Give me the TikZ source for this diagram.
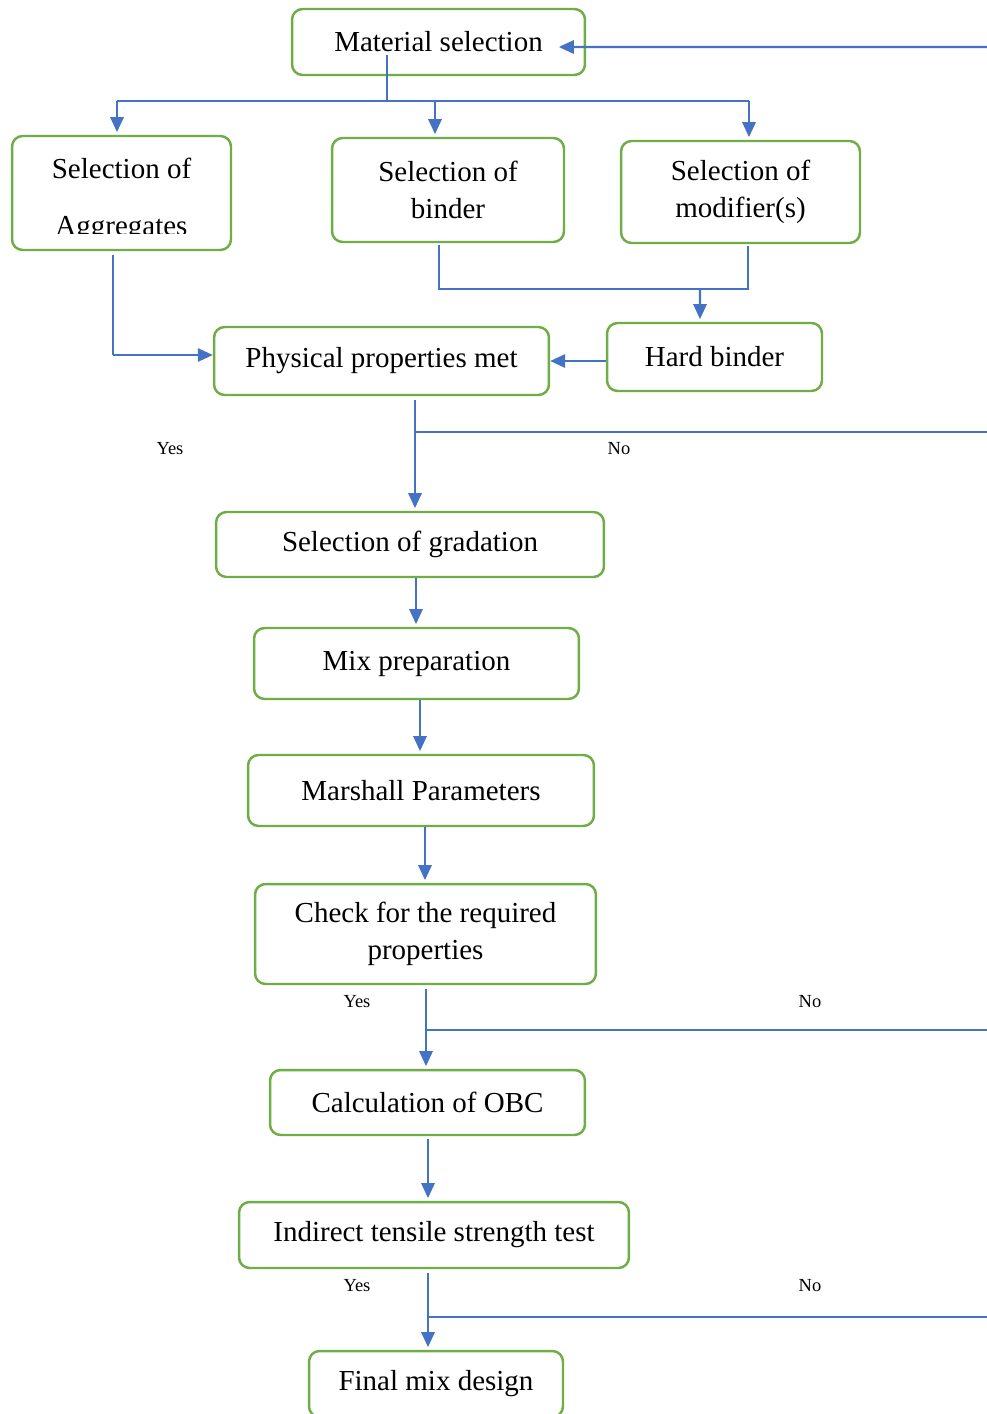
\documentclass[tikz,border=0pt]{standalone}
\usepackage{fontspec}
\setmainfont{Liberation Serif}
\usetikzlibrary{arrows.meta}
\definecolor{boxgreen}{HTML}{70AD47}
\definecolor{linkblue}{HTML}{4472C4}
\begin{document}
\begin{tikzpicture}[x=0.02cm,y=-0.02cm,
    stage/.style={draw=boxgreen,line width=1.4pt,rounded corners=6pt,align=center,
        inner sep=0pt,font=\fontsize{16.5}{21}\selectfont},
    link/.style={draw=linkblue,line width=1.3pt,-{Triangle[length=8.5pt,width=7.5pt]},shorten >=1.5pt},
    thinlink/.style={draw=linkblue,line width=0.7pt},
    answer/.style={font=\fontsize{10.5}{12}\selectfont}]
        \useasboundingbox (0,0) rectangle (987,1414);
        \fill[white] (0,0) rectangle (987,1414);
        \clip (0,0) rectangle (987,1414);
        \coordinate (rim) at (987,0);
        % Materials
        \node[stage,minimum width=5.86cm,minimum height=1.32cm] (msel) at (438.5,42) {Material selection};
        \node[stage,minimum width=4.38cm,minimum height=2.28cm] (agg) at (121.5,193) {};
        \node[anchor=base,font=\fontsize{16.5}{21}\selectfont] (aggtop) at (121.5,178) {Selection of};
        \begin{scope}
            \clip (0,136) rectangle (987,233);
            \node[anchor=base,font=\fontsize{16.5}{21}\selectfont] (aggbot) at (121.5,235) {Aggregates};
        \end{scope}
        \node[stage,minimum width=4.64cm,minimum height=2.08cm] (bind) at (448,190) {Selection of\\binder};
        \node[stage,minimum width=4.78cm,minimum height=2.04cm] (modf) at (740.5,192) {Selection of\\modifier(s)};
        \node[stage,minimum width=4.30cm,minimum height=1.36cm] (hard) at (714.5,357) {Hard binder};
        \node[stage,minimum width=6.70cm,minimum height=1.36cm] (phys) at (381.5,361) {Physical properties met};
        % Mix design
        \node[stage,minimum width=7.76cm,minimum height=1.30cm] (grad) at (410,544.5) {Selection of gradation};
        \node[stage,minimum width=6.50cm,minimum height=1.42cm] (mixp) at (416.5,663.5) {Mix preparation};
        \node[stage,minimum width=6.92cm,minimum height=1.42cm] (mars) at (421,790.5) {Marshall Parameters};
        \node[stage,minimum width=6.82cm,minimum height=2.00cm] (chk) at (425.5,934) {Check for the required\\properties};
        \node[stage,minimum width=6.30cm,minimum height=1.30cm] (obc) at (427.5,1102.5) {Calculation of OBC};
        \node[stage,minimum width=7.80cm,minimum height=1.32cm] (its) at (434,1235) {Indirect tensile strength test};
        \node[stage,minimum width=5.08cm,minimum height=1.32cm] (fin) at (436,1384) {Final mix design};
        % Answers
        \node[answer] (yes1) at (170,449) {Yes};
        \node[answer] (no1) at (619,449) {No};
        \node[answer] (yes2) at (357,1002) {Yes};
        \node[answer] (no2) at (810,1002) {No};
        \node[answer] (yes3) at (357,1286) {Yes};
        \node[answer] (no3) at (810,1286) {No};
        % Top branches
        \coordinate (split) at (387,101);
        \coordinate (back) at (987,47);
        \draw[link] (back) -- ([xshift=-0.6cm,yshift=-0.1cm]msel.east);
        \draw[thinlink] ([yshift=-0.26cm]msel.center -| split) -- (split);
        \draw[thinlink] ([xshift=-0.09cm]agg.north |- split) -- ([xshift=0.17cm]modf.north |- split);
        \draw[link] ([xshift=-0.09cm]agg.north |- split) -- ([xshift=-0.09cm]agg.north);
        \draw[link] ([xshift=-0.26cm]bind.north |- split) -- ([xshift=-0.26cm]bind.north);
        \draw[link] ([xshift=0.17cm]modf.north |- split) -- ([xshift=0.17cm]modf.north);
        % Binder to hard binder
        \coordinate (join) at (700,289);
        \draw[thinlink] ([xshift=-0.18cm,yshift=-0.04cm]bind.south) |- ([xshift=0.15cm]modf.south |- join)
            -- ([xshift=0.15cm,yshift=-0.04cm]modf.south);
        \draw[link] (join) -- ([xshift=-0.29cm]hard.north);
        \draw[link,shorten >=0pt] (phys.east -| hard.west) -- (phys.east);
        % Aggregates to physical properties
        \coordinate (aggbend) at (113,355);
        \draw[thinlink] ([yshift=-0.08cm]agg.south -| aggbend) -- (aggbend);
        \draw[link,shorten >=0pt] (aggbend) -- (aggbend -| phys.west);
        % Main line
        \coordinate (fork1) at (415,432);
        \coordinate (fork2) at (426,1030);
        \coordinate (fork3) at (428,1317);
        \draw[link] ([yshift=-0.08cm]phys.south -| fork1) -- (grad.north -| fork1);
        \draw[thinlink] (fork1) -- (fork1 -| rim);
        \draw[link] ([xshift=0.12cm]grad.south) -- ([xshift=0.12cm]grad.south |- mixp.north);
        \draw[link] ([xshift=0.07cm]mixp.south) -- ([xshift=0.07cm]mixp.south |- mars.north);
        \draw[link] ([xshift=0.08cm]mars.south) -- ([xshift=0.08cm]mars.south |- chk.north);
        \draw[link] ([yshift=-0.08cm]chk.south -| fork2) -- (obc.north -| fork2);
        \draw[thinlink] (fork2) -- (fork2 -| rim);
        \draw[link] ([yshift=-0.06cm]obc.south -| fork3) -- (its.north -| fork3);
        \draw[link] ([yshift=-0.08cm]its.south -| fork3) -- (fin.north -| fork3);
        \draw[thinlink,line width=1pt] (fork3) -- (fork3 -| rim);
    \end{tikzpicture}
\end{document}
